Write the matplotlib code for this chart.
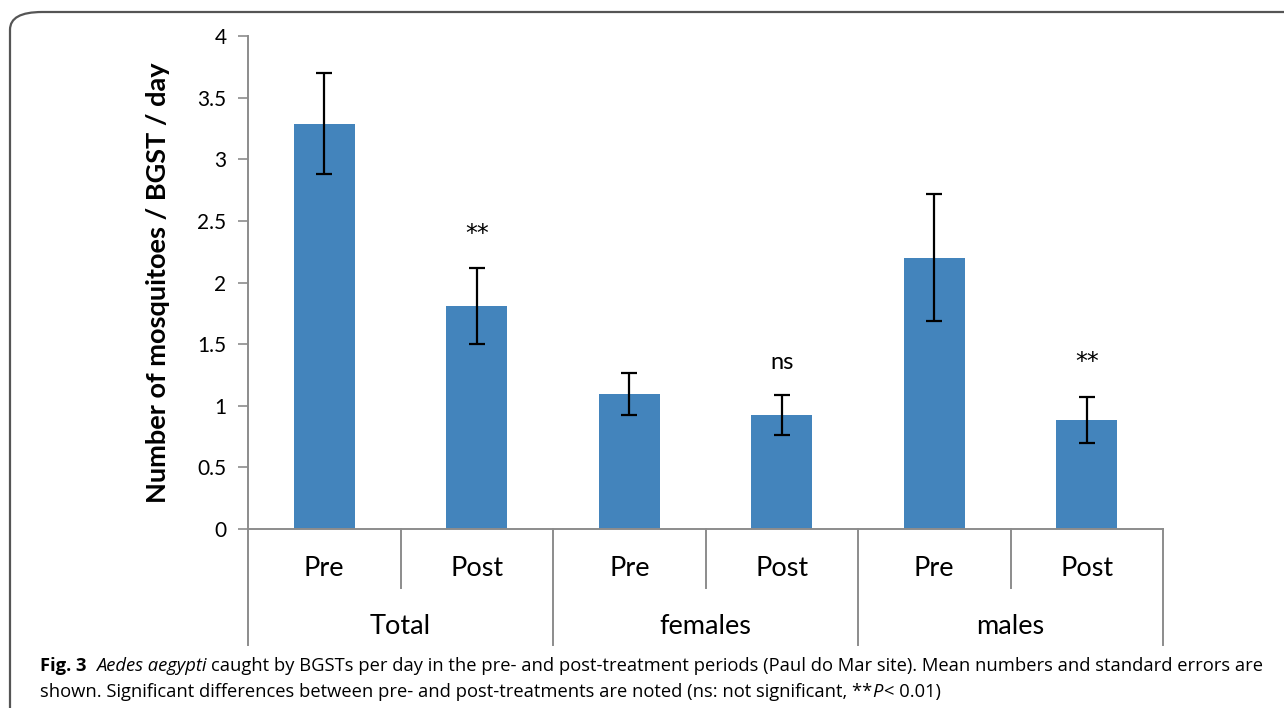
import matplotlib
matplotlib.use("Agg")
import matplotlib.pyplot as plt
from matplotlib.patches import FancyBboxPatch
import numpy as np

# ---- data ----
groups = ["Total", "females", "males"]
periods = ["Pre", "Post", "Pre", "Post", "Pre", "Post"]
means = [3.29, 1.81, 1.095, 0.925, 2.20, 0.885]
errors = [0.41, 0.305, 0.17, 0.16, 0.515, 0.19]
signif = ["", "**", "", "ns", "", "**"]
yticks = [0, 0.5, 1, 1.5, 2, 2.5, 3, 3.5, 4]
ytick_labels = ["0", "0.5", "1", "1.5", "2", "2.5", "3", "3.5", "4"]

W, H = 1284, 708
fig = plt.figure(figsize=(W / 100, H / 100), dpi=100)
CF = "Lato"

# border
border = FancyBboxPatch((10 / W, (H - 740) / H), 1320 / W, 728 / H,
                        boxstyle="round,pad=0,rounding_size=0.025",
                        transform=fig.transFigure, fill=False,
                        edgecolor="#555555", linewidth=1.6, clip_on=False)
fig.add_artist(border)

ax_l, ax_r, ax_t, ax_b = 248, 1163, 36, 529
ax = fig.add_axes([ax_l / W, (H - ax_b) / H, (ax_r - ax_l) / W, (ax_b - ax_t) / H])
x = np.arange(len(means))
ax.bar(x, means, width=0.4, color="#4384bc", zorder=2)
ax.errorbar(x, means, yerr=errors, fmt="none", ecolor="black",
            elinewidth=1.6, capsize=5.5, capthick=1.6, zorder=3)

ax.set_xlim(-0.5, 5.5)
ax.set_ylim(0, 4)
ax.set_yticks(yticks)
ax.set_yticklabels(ytick_labels, fontsize=15, family=CF)
ax.tick_params(axis="y", length=7.5, width=1.2, color="#8c8c8c", pad=8)
ax.set_xticks([])
for s in ["top", "right"]:
    ax.spines[s].set_visible(False)
for s in ["left", "bottom"]:
    ax.spines[s].set_color("#8c8c8c")
    ax.spines[s].set_linewidth(1.4)

ax.set_ylabel("Number of mosquitoes / BGST / day", fontsize=19.5,
              fontweight="bold", family=CF, labelpad=20)

# annotations
for xi, (m, e, s) in enumerate(zip(means, errors, signif)):
    if s:
        fam = "DejaVu Sans" if s == "**" else CF
        ax.text(xi, m + e + 0.18, s, ha="center", va="bottom",
                fontsize=17, family=fam)

# category separators and labels below axis
axh = ax_b - ax_t
short_y = -(588 - ax_b) / axh
long_y = -(645 - ax_b) / axh
tr = ax.get_xaxis_transform()
for xs in [0.5, 2.5, 4.5]:
    ax.plot([xs, xs], [0, short_y], transform=tr, color="#8c8c8c", lw=1.4,
            clip_on=False)
for xs in [-0.5, 1.5, 3.5, 5.5]:
    ax.plot([xs, xs], [0, long_y], transform=tr, color="#8c8c8c", lw=1.4,
            clip_on=False)
lab_y = -(568 - ax_b) / axh
grp_y = -(627 - ax_b) / axh
for xi, p in enumerate(periods):
    ax.text(xi, lab_y, p, transform=tr, ha="center", va="center",
            fontsize=19.5, family=CF)
for gi, g in enumerate(groups):
    ax.text(2 * gi + 0.5, grp_y, g, transform=tr, ha="center", va="center",
            fontsize=19.5, family=CF)

# caption
CAP = "Open Sans"
cs = 13.25
line1_y = (H - 671) / H
line2_y = (H - 697) / H
fig.canvas.draw()
r = fig.canvas.get_renderer()
t1 = fig.text(40 / W, line1_y, "Fig. 3", fontsize=cs, fontweight="bold",
              family=CAP, va="baseline")
bb = t1.get_window_extent(r)
t2 = fig.text((bb.x1 + 10) / W, line1_y, "Aedes aegypti", fontsize=cs,
              style="italic", family=CAP, va="baseline")
bb = t2.get_window_extent(r)
fig.text((bb.x1 + 4) / W, line1_y,
         "caught by BGSTs per day in the pre- and post-treatment periods (Paul do Mar site). Mean numbers and standard errors are",
         fontsize=cs, family=CAP, va="baseline")
t4 = fig.text(40 / W, line2_y,
              "shown. Significant differences between pre- and post-treatments are noted (ns: not significant, **",
              fontsize=cs, family=CAP, va="baseline")
bb = t4.get_window_extent(r)
t5 = fig.text((bb.x1 + 0) / W, line2_y, "P", fontsize=cs, style="italic",
              family=CAP, va="baseline")
bb = t5.get_window_extent(r)
fig.text((bb.x1 + 1) / W, line2_y, "< 0.01)", fontsize=cs, family=CAP,
         va="baseline")

fig.savefig("out.png", dpi=100)
